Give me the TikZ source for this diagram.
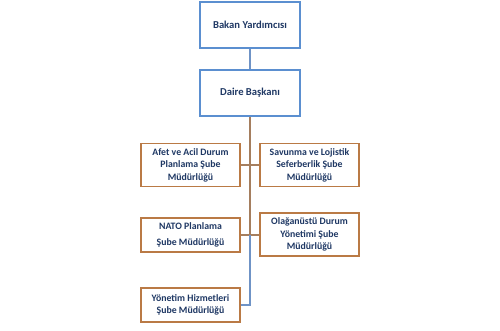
\documentclass[tikz,border=0pt]{standalone}
\usepackage{fontspec}
\setmainfont{Carlito}
\usetikzlibrary{positioning, calc}
\definecolor{boxblue}{HTML}{5B8FD0}
\definecolor{linkblue}{HTML}{6F93C6}
\definecolor{boxbrown}{HTML}{BA7A45}
\definecolor{linkbrown}{HTML}{A57E5E}
\definecolor{navytext}{HTML}{1F3864}
\tikzset{
	headbox/.style={draw=boxblue, line width=1.3pt, fill=white, minimum width=100pt, minimum height=46pt,
		font=\fontsize{10.6}{12}\selectfont\bfseries\color{navytext}, align=center, inner sep=2pt}
}
\tikzset{
	unitbox/.style={draw=boxbrown, line width=1.1pt, fill=white, minimum width=99pt,
		font=\fontsize{9.8}{12.5}\selectfont\bfseries\color{navytext}, align=center, inner sep=2pt}
}
\begin{document}
\begin{tikzpicture}[x=1pt, y=-1pt, line width=1.3pt]
      \useasboundingbox (0,0) rectangle (500,330);

      % upper chain
      \node[headbox] (bakan) at (250,25) {Bakan Yardımcısı};
      \node[headbox] (daire) at (250,93) {Daire Başkanı};
      \draw[linkblue] (bakan.south) -- (daire.north);

      % departments in two columns
      \node[unitbox, minimum height=43pt] (afet) at (190.5,165) {Afet ve Acil Durum\\Planlama Şube\\Müdürlüğü};
      \node[unitbox, minimum height=43pt] (savunma) at (309.5,165) {Savunma ve Lojistik\\Seferberlik Şube\\Müdürlüğü};
      \node[unitbox, minimum height=34pt] (nato) at (190.5,235) {NATO Planlama\\[4pt]Şube Müdürlüğü};
      \node[unitbox, minimum height=43pt] (olag) at (309.5,234.5) {Olağanüstü Durum\\Yönetimi Şube\\Müdürlüğü};
      \node[unitbox, minimum height=34pt] (yonetim) at (190.5,305) {Yönetim Hizmetleri\\Şube Müdürlüğü};

      % trunk and branches
      \coordinate (split) at (daire.south |- nato.east);
      \draw[linkbrown] (daire.south) -- (split);
      \draw[linkbrown] (afet.east) -- (savunma.west);
      \draw[linkbrown] (nato.east) -- (olag.west |- nato.east);
      \draw[linkblue] (split) |- (yonetim.east);
    \end{tikzpicture}
\end{document}
